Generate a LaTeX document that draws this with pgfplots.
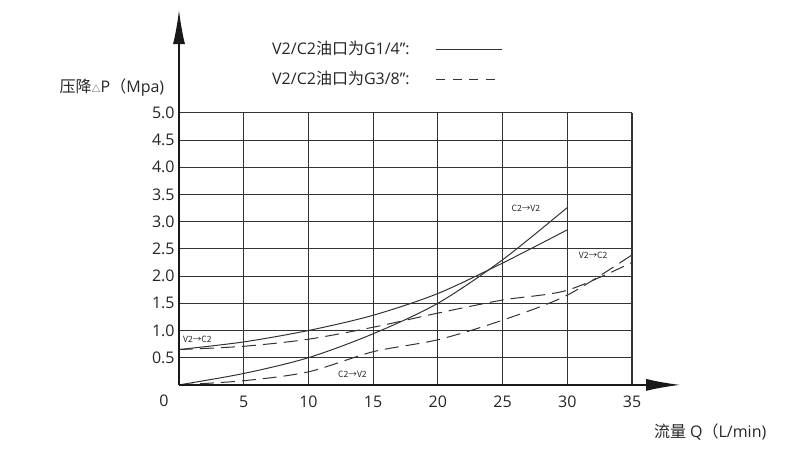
\documentclass[border=0pt]{standalone}
\usepackage{fontspec}
\setmainfont{Open Sans}
\newfontfamily\cjk{Noto Sans CJK SC}
\usepackage{pgfplots}
\pgfplotsset{compat=1.18}
\usetikzlibrary{arrows.meta}

\begin{document}
\begin{tikzpicture}
\path[use as bounding box] (0,0) rectangle (400pt,225.5pt);
\begin{axis}[
  at={(89.5pt,33.05pt)}, anchor=south west,
  scale only axis, width=226.5pt, height=136pt,
  xmin=0, xmax=35, ymin=0, ymax=5,
  axis line style={draw=none},
  major tick length=0pt,
  xtick={5,10,15,20,25,30,35},
  ytick={0.5,1,1.5,2,2.5,3,3.5,4,4.5,5},
  grid=major, grid style={black!80, line width=0.55pt},
  clip=false,
  tick label style={font=\fontsize{8pt}{9pt}\selectfont, text=black!85},
  yticklabel style={inner sep=0pt, xshift=-2pt, /pgf/number format/.cd, fixed, fixed zerofill, precision=1, assume math mode=true},
  xticklabel style={inner sep=0pt, yshift=-5.5pt, /pgf/number format/assume math mode=true},
  legend plot pos=right,
  legend cell align=right,
  legend image code/.code={\draw[#1] (0pt,0pt) -- (33pt,0pt);},
  legend style={at={(axis cs:25.04,6.40)}, anchor=north east, draw=none, fill=none, inner sep=0pt,
    font=\fontsize{8pt}{9pt}\selectfont, text=black!85, row sep=3pt,
    /tikz/every odd column/.append style={column sep=11pt}},
]
\addlegendimage{black!80, line width=0.5pt}
\addlegendentry{V2/C2{\cjk 油口为}G1/4":}
\addlegendimage{black!80, line width=0.5pt, dash pattern=on 4.5pt off 3.8pt}
\addlegendentry{V2/C2{\cjk 油口为}G3/8":}

% solid C2->V2
\addplot[black!80, line width=0.5pt, smooth, forget plot] coordinates {
(0,0) (5,0.21) (10,0.5) (15,0.94) (20,1.5) (25,2.3) (30,3.26)};
% solid V2->C2
\addplot[black!80, line width=0.5pt, smooth, forget plot] coordinates {
(0,0.65) (5,0.79) (10,1.0) (15,1.28) (20,1.68) (25,2.24) (30,2.85)};
% dashed V2->C2
\addplot[black!80, line width=0.5pt, smooth, dash pattern=on 7pt off 3.5pt, forget plot] coordinates {
(0,0.65) (5,0.71) (10,0.84) (15,1.06) (20,1.32) (25,1.56) (30,1.74) (35,2.25)};
% dashed C2->V2
\addplot[black!80, line width=0.5pt, smooth, dash pattern=on 7pt off 3.5pt, forget plot] coordinates {
(0,0) (5,0.077) (10,0.24) (15,0.61) (20,0.83) (25,1.19) (30,1.65) (35,2.39)};

\draw[black!90, line width=0.65pt, -{Latex[length=17pt,width=6pt]}] (axis cs:0,0) -- (axis cs:0,6.89);
\draw[black!90, line width=0.65pt, -{Latex[length=17pt,width=6pt]}] (axis cs:0,0) -- (axis cs:38.72,0);

\node[font=\fontsize{8pt}{9pt}\selectfont, text=black!85] at (axis cs:-1.16,-0.296) {0};
\node[font=\cjk\fontsize{4.3pt}{5pt}\selectfont, text=black!85] at (axis cs:26.8,3.25) {C2→V2};
\node[font=\cjk\fontsize{4.3pt}{5pt}\selectfont, text=black!85] at (axis cs:32.0,2.39) {V2→C2};
\node[font=\cjk\fontsize{4.3pt}{5pt}\selectfont, text=black!85] at (axis cs:1.42,0.83) {V2→C2};
\node[font=\cjk\fontsize{4.3pt}{5pt}\selectfont, text=black!85] at (axis cs:13.4,0.195) {C2→V2};

\node[font=\fontsize{8pt}{9pt}\selectfont, text=black!85] at (axis cs:-5.18,5.46) {{\cjk 压降{\fontsize{4.5pt}{5pt}\selectfont △}}P{\cjk （}Mpa)};
\node[font=\fontsize{8pt}{9pt}\selectfont, text=black!85] at (axis cs:41.04,-0.866) {{\cjk 流量} Q{\cjk （}L/min)};
\end{axis}
\end{tikzpicture}
\end{document}
